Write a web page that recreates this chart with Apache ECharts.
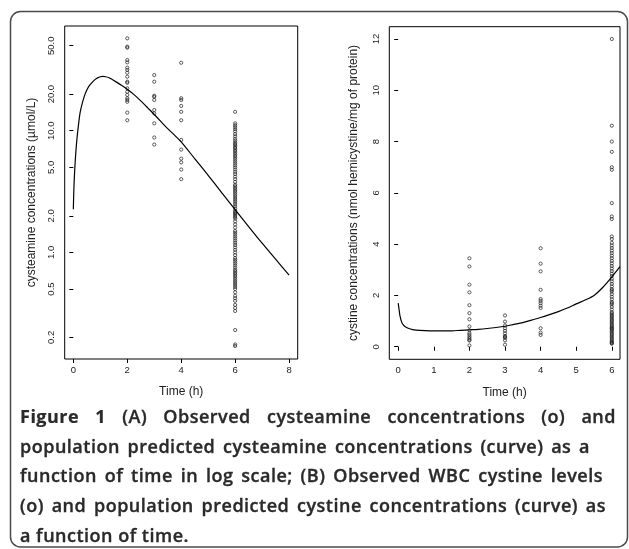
<!DOCTYPE html>
<html lang="en">
<head>
    <meta charset="UTF-8">
    <title>Figure 1</title>
    <script src="https://cdn.jsdelivr.net/npm/echarts@6/dist/echarts.min.js"></script>
    <style>
        body { margin: 0; background: #fff; }
        #wrap { position: relative; width: 629px; height: 549px; }
        #chart { width: 629px; height: 549px; }
        #caption {
            position: absolute; left: 20px; top: 402px;
            font-family: "Open Sans", sans-serif; font-size: 18px; font-weight: 600;
            letter-spacing: 0.5px; line-height: 29.7px; color: #2a2a2a;
            -webkit-text-stroke: 0.35px #2a2a2a;
        }
        #caption div { white-space: nowrap; text-align: left; }
        #caption div.j { text-align: justify; text-align-last: justify; }
        #caption b { font-weight: 700; -webkit-text-stroke: 0.2px #2a2a2a; }
    </style>
</head>
<body>
    <div id="wrap">
        <div id="chart"></div>
        <div id="caption"></div>
    </div>
    <script>
        // (A) observed cysteamine concentrations (umol/L) by sampling time
        const cysT2 = [57.5, 49.1, 48.2, 38.1, 36.5, 33.0, 31.6, 30.0, 27.8, 25.3, 24.8, 22.3, 20.9, 19.7, 18.5, 17.9, 17.3, 14.1, 12.2];
        const cysT3 = [28.7, 25.3, 19.4, 19.0, 17.9, 14.8, 13.9, 11.5, 8.8, 7.7];
        const cysT4 = [36.2, 18.5, 17.9, 16.0, 14.3, 12.2, 8.4, 7.0, 5.9, 5.5, 4.8, 4.0];
        const cysT6 = [14.3, 11.5, 11.1, 10.7, 10.3, 9.9, 9.4, 9.0, 8.6, 8.3, 8.0, 7.8, 7.6, 7.4, 7.2, 7.0, 6.8, 6.6,
            6.4, 6.2, 6.0, 5.8, 5.6, 5.4, 5.2, 5.0, 4.8, 4.6, 4.4, 4.2, 4.0, 3.8, 3.6, 3.5, 3.4, 3.3, 3.2, 3.1, 3.0,
            2.9, 2.8, 2.7, 2.6, 2.5, 2.4, 2.3, 2.2, 2.15, 2.1, 2.05, 2.0, 1.95, 1.9, 1.8, 1.7, 1.6, 1.5, 1.45, 1.4,
            1.35, 1.3, 1.25, 1.2, 1.15, 1.1, 1.05, 1.0, 0.95, 0.9, 0.87, 0.84, 0.81, 0.78, 0.75, 0.72, 0.7, 0.68,
            0.66, 0.64, 0.62, 0.6, 0.58, 0.56, 0.54, 0.52, 0.5, 0.47, 0.44, 0.42, 0.4, 0.37, 0.35, 0.33, 0.23, 0.175, 0.17];

        // (A) population predicted curve
        const cysCurveT = [0, 0.02, 0.05, 0.1, 0.15, 0.2, 0.25, 0.3, 0.4, 0.5, 0.6, 0.7, 0.8, 0.9, 1.0, 1.1, 1.2, 1.3, 1.4,
            1.6, 1.8, 2.0, 2.25, 2.5, 2.75, 3.0, 3.25, 3.5, 3.75, 4.0, 4.5, 5.0, 5.5, 6.0, 6.5, 7.0, 7.5, 8.0];
        const cysCurveC = [2.26, 3.3, 4.7, 7.0, 9.3, 11.6, 14.0, 15.8, 19.0, 21.6, 23.6, 25.0, 26.3, 27.2, 27.8, 28.0, 27.8,
            27.4, 26.7, 25.1, 23.5, 21.9, 19.8, 17.6, 15.5, 13.6, 11.9, 10.4, 9.2, 8.1, 5.9, 4.3, 3.1, 2.25, 1.63, 1.19, 0.88, 0.65];

        // (B) observed WBC cystine levels (nmol hemicystine/mg of protein)
        const wbcT2 = [3.45, 3.13, 2.42, 2.12, 1.62, 1.31, 1.07, 0.79, 0.64, 0.53, 0.46, 0.39, 0.33, 0.27, 0.24, 0.05];
        const wbcT3 = [1.22, 0.98, 0.83, 0.72, 0.62, 0.52, 0.42, 0.38, 0.35, 0.25, 0.08];
        const wbcT4 = [3.84, 3.24, 2.94, 2.22, 1.86, 1.79, 1.70, 1.60, 1.51, 0.72, 0.55, 0.46];
        const wbcT6 = [12.0, 8.62, 8.0, 7.6, 7.0, 6.9, 5.6, 5.08, 4.98, 4.3, 4.2, 4.05, 3.95, 3.85, 3.75, 3.65, 3.55, 3.45,
            3.35, 3.25, 3.15, 3.05, 2.95, 2.85, 2.75, 2.65, 2.55, 2.45, 2.35, 2.25, 2.2, 2.15, 2.05, 1.95, 1.85, 1.75, 1.7,
            1.65, 1.55, 1.45, 1.35, 1.3, 1.25, 1.2, 1.15, 1.1, 1.05, 1.0, 0.95, 0.9, 0.85, 0.8, 0.75, 0.72, 0.7, 0.65,
            0.6, 0.55, 0.5, 0.45, 0.4, 0.35, 0.3, 0.25, 0.2, 0.17, 0.14, 0.12];

        // (B) population predicted curve
        const wbcCurveT = [0, 0.02, 0.05, 0.1, 0.15, 0.2, 0.3, 0.4, 0.5, 0.75, 1.0, 1.25, 1.5, 1.75, 2.0, 2.25, 2.5, 2.75,
            3.0, 3.25, 3.5, 3.75, 4.0, 4.25, 4.5, 4.75, 5.0, 5.25, 5.5, 5.75, 6.0, 6.23];
        const wbcCurveC = [1.70, 1.5, 1.2, 0.95, 0.84, 0.78, 0.71, 0.67, 0.65, 0.63, 0.62, 0.62, 0.62, 0.64, 0.66, 0.68,
            0.71, 0.75, 0.80, 0.87, 0.94, 1.04, 1.14, 1.25, 1.37, 1.51, 1.67, 1.82, 2.0, 2.32, 2.72, 3.12];

        // tick labels
        const cysXTicks = [0, 2, 4, 6, 8];
        const cysYTicks = [0.2, 0.5, 1, 2, 5, 10, 20, 50];
        const wbcXTicks = [0, 1, 2, 3, 4, 5, 6];
        const wbcYTicks = [0, 2, 4, 6, 8, 10, 12];

        // caption, one entry per printed line
        const captionLines = [
            '<b>Figure 1</b> (A) Observed cysteamine concentrations (o) and',
            'population predicted cysteamine concentrations (curve) as a',
            'function of time in log scale; (B) Observed WBC cystine levels',
            '(o) and population predicted cystine concentrations (curve) as',
            'a function of time.'
        ];
        const captionWidths = [596, 570, 583, 586, 0];

        document.getElementById('caption').innerHTML = captionLines.map((line, i) =>
            captionWidths[i] ? `<div class="j" style="width:${captionWidths[i]}px">${line}</div>` : `<div>${line}</div>`
        ).join('');

        function column(t, values) {
            return values.map(v => [t, v]);
        }
        function pairs(ts, vs) {
            return ts.map((t, i) => [t, vs[i]]);
        }

        const chart = echarts.init(document.getElementById('chart'));
        const labelFont = 'Liberation Sans, Arial, sans-serif';
        const tickStyle = { show: true, length: 4, lineStyle: { color: '#000', width: 1 } };

        function xAxis(idx, min, max, ticks) {
            return {
                type: 'value', gridIndex: idx, min: min, max: max,
                axisLine: { show: false }, splitLine: { show: false },
                axisTick: Object.assign({ customValues: ticks }, tickStyle),
                axisLabel: { customValues: ticks, margin: 6, fontSize: 9.5, color: '#222', fontFamily: labelFont },
                name: 'Time (h)', nameLocation: 'middle', nameGap: 27,
                nameTextStyle: { fontSize: 12, color: '#222', fontFamily: labelFont }
            };
        }

        const points = {
            type: 'scatter', symbol: 'circle', symbolSize: 3.2,
            itemStyle: { color: 'transparent', borderColor: '#222', borderWidth: 0.9 },
            silent: true
        };
        const curve = {
            type: 'line', showSymbol: false, smooth: 0.3,
            lineStyle: { color: '#000', width: 1.2 }, silent: true
        };

        const option = {
            animation: false,
            grid: [
                { left: 64.7, right: 331.3, top: 26, bottom: 190, show: true, borderColor: '#000', borderWidth: 1, outerBoundsMode: 'none' },
                { left: 389.3, right: 9, top: 26.7, bottom: 189.7, show: true, borderColor: '#000', borderWidth: 1, outerBoundsMode: 'none' }
            ],
            xAxis: [
                xAxis(0, -0.32, 8.32, cysXTicks),
                xAxis(1, -0.25, 6.23, wbcXTicks)
            ],
            yAxis: [
                {
                    type: 'log', logBase: 10, gridIndex: 0, min: 0.133, max: 72.6,
                    axisLine: { show: false }, splitLine: { show: false },
                    axisTick: Object.assign({ customValues: cysYTicks }, tickStyle),
                    axisLabel: {
                        customValues: cysYTicks, rotate: 90, margin: 8, fontSize: 9.5, color: '#222',
                        fontFamily: labelFont, formatter: v => Number(v).toFixed(1)
                    },
                    name: 'cysteamine concentrations (µmol/L)', nameLocation: 'middle', nameGap: 27,
                    nameTextStyle: { fontSize: 12, color: '#222', fontFamily: labelFont }
                },
                {
                    type: 'value', gridIndex: 1, min: -0.49, max: 12.48,
                    axisLine: { show: false }, splitLine: { show: false },
                    axisTick: Object.assign({ customValues: wbcYTicks }, tickStyle),
                    axisLabel: {
                        customValues: wbcYTicks, rotate: 90, margin: 8, fontSize: 9.5, color: '#222',
                        fontFamily: labelFont
                    },
                    name: 'cystine concentrations (nmol hemicystine/mg of protein)', nameLocation: 'middle', nameGap: 30,
                    nameTextStyle: { fontSize: 12, color: '#222', fontFamily: labelFont }
                }
            ],
            series: [
                Object.assign({}, points, { xAxisIndex: 0, yAxisIndex: 0,
                    data: [].concat(column(2, cysT2), column(3, cysT3), column(4, cysT4), column(6, cysT6)) }),
                Object.assign({}, curve, { xAxisIndex: 0, yAxisIndex: 0, data: pairs(cysCurveT, cysCurveC) }),
                Object.assign({}, points, { xAxisIndex: 1, yAxisIndex: 1,
                    data: [].concat(column(2, wbcT2), column(3, wbcT3), column(4, wbcT4), column(6, wbcT6)) }),
                Object.assign({}, curve, { xAxisIndex: 1, yAxisIndex: 1, data: pairs(wbcCurveT, wbcCurveC) })
            ],
            graphic: [
                {
                    type: 'rect', silent: true,
                    shape: { x: 10.5, y: 11.5, width: 617, height: 535.5, r: 10 },
                    style: { fill: 'none', stroke: '#4a4a4a', lineWidth: 1.5 }
                }
            ]
        };
        chart.setOption(option);
    </script>
</body>
</html>
